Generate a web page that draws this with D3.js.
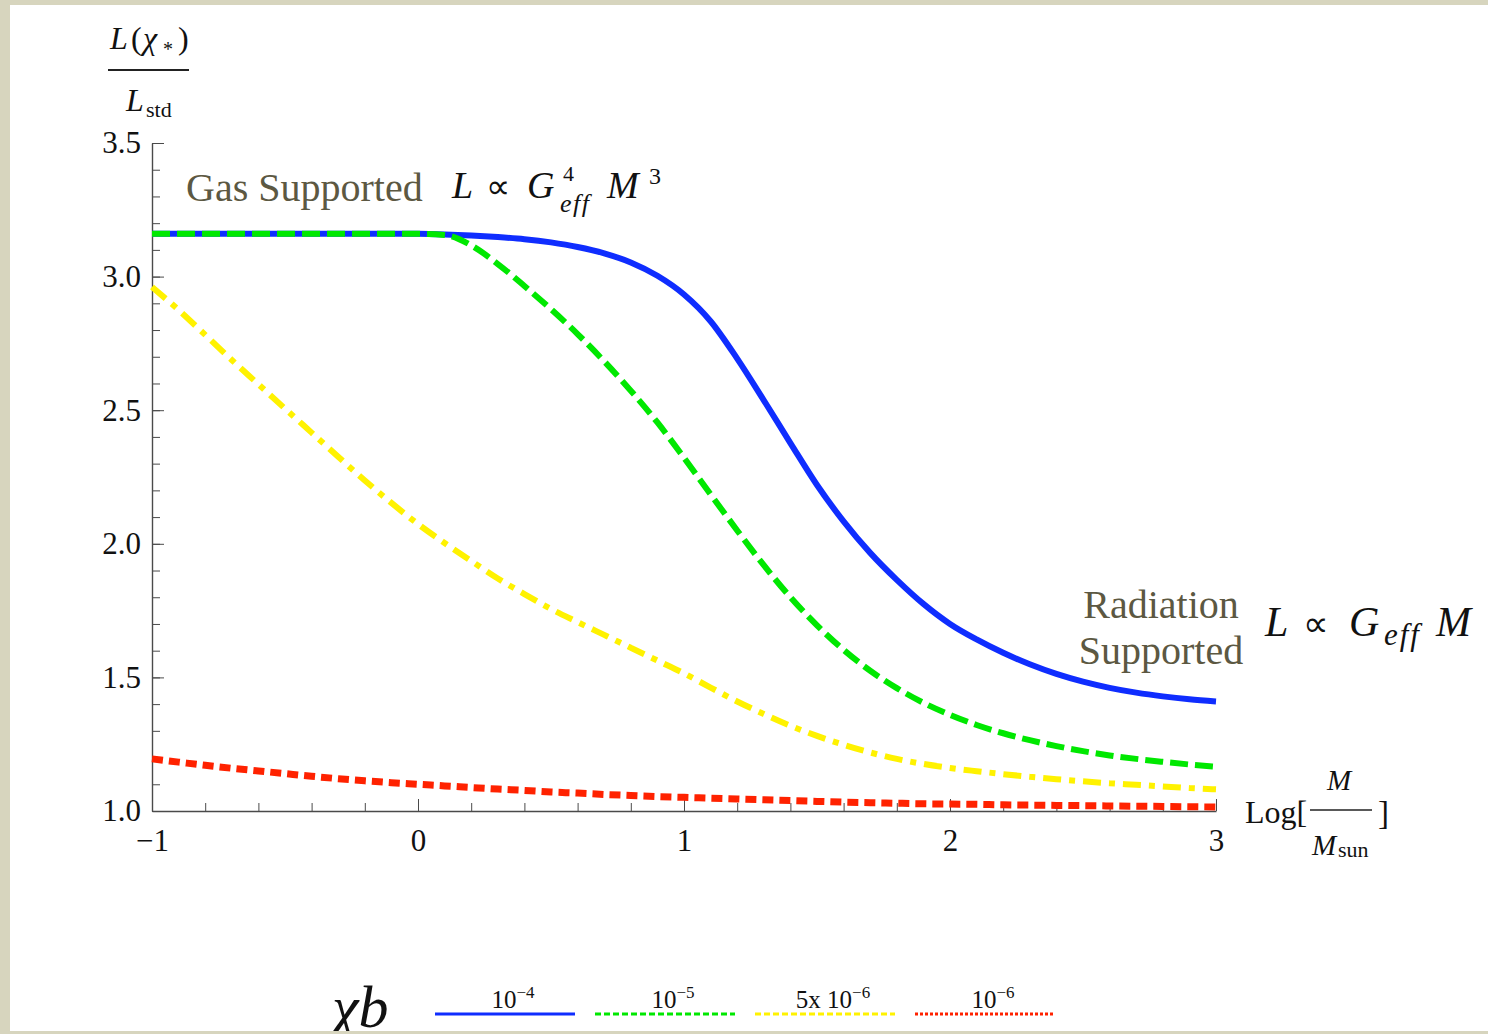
<!DOCTYPE html>
<html>
<head>
<meta charset="utf-8">
<script src="https://cdn.jsdelivr.net/npm/d3@7"></script>
<style>
    html, body { margin: 0; padding: 0; background: #fff; }
    svg { display: block; }
    text { font-family: "Liberation Serif", "Times New Roman", serif; font-variant-ligatures: none; }
</style>
</head>
<body>
<svg width="1488" height="1034"></svg>
<script>
// log10(M / Msun)
const logMass = [-1.0, -0.9, -0.8, -0.7, -0.6, -0.5, -0.4, -0.3, -0.2, -0.1,
    0.0, 0.1, 0.2, 0.3, 0.4, 0.5, 0.6, 0.7, 0.8, 0.9,
    1.0, 1.1, 1.2, 1.3, 1.4, 1.5, 1.6, 1.7, 1.8, 1.9,
    2.0, 2.1, 2.2, 2.3, 2.4, 2.5, 2.6, 2.7, 2.8, 2.9, 3.0];

// L(chi*) / Lstd for each chi_b
const chi1e4 = [3.16, 3.16, 3.16, 3.16, 3.16, 3.16, 3.16, 3.16, 3.16, 3.16,
    3.16, 3.158, 3.154, 3.148, 3.14, 3.128, 3.111, 3.087, 3.053, 3.003,
    2.933, 2.833, 2.693, 2.537, 2.377, 2.22, 2.084, 1.966, 1.865, 1.775,
    1.700, 1.642, 1.592, 1.549, 1.513, 1.484, 1.461, 1.443, 1.429, 1.418, 1.410];
const chi1e5 = [3.16, 3.16, 3.16, 3.16, 3.16, 3.16, 3.16, 3.16, 3.16, 3.16,
    3.16, 3.156, 3.117, 3.047, 2.965, 2.878, 2.785, 2.683, 2.573, 2.454,
    2.322, 2.185, 2.05, 1.92, 1.80, 1.695, 1.603, 1.525, 1.46, 1.405,
    1.36, 1.322, 1.291, 1.265, 1.243, 1.224, 1.208, 1.195, 1.184, 1.174, 1.166];
const chi5e6 = [2.961, 2.875, 2.782, 2.688, 2.597, 2.506, 2.416, 2.326, 2.237, 2.153,
    2.074, 2.003, 1.936, 1.87, 1.812, 1.756, 1.707, 1.659, 1.611, 1.563,
    1.515, 1.462, 1.41, 1.363, 1.319, 1.281, 1.248, 1.219, 1.195, 1.176,
    1.161, 1.149, 1.138, 1.128, 1.119, 1.111, 1.104, 1.098, 1.092, 1.086, 1.081];
const chi1e6 = [1.195, 1.183, 1.171, 1.16, 1.15, 1.14, 1.13, 1.121, 1.113, 1.106,
    1.1, 1.094, 1.088, 1.082, 1.077, 1.071, 1.067, 1.062, 1.058, 1.054,
    1.051, 1.048, 1.045, 1.042, 1.039, 1.036, 1.033, 1.031, 1.029, 1.027,
    1.026, 1.025, 1.023, 1.022, 1.021, 1.02, 1.019, 1.018, 1.017, 1.016, 1.015];

const xMajorTicks = [-1, 0, 1, 2, 3];
const yMajorTicks = [1.0, 1.5, 2.0, 2.5, 3.0, 3.5];

const series = [
    { values: chi1e4, base: "10", exp: "\u22124", stroke: "#0f2dff", width: 6, dash: null, legendDash: null },
    { values: chi1e5, base: "10", exp: "\u22125", stroke: "#00e800", width: 6, dash: "18 7", legendDash: "6 3" },
    { values: chi5e6, base: "5x 10", exp: "\u22126", stroke: "#fff200", width: 6, dash: "18 8 6 8", legendDash: "6 3" },
    { values: chi1e6, base: "10", exp: "\u22126", stroke: "#ff2200", width: 7, dash: "11 6", legendDash: "3 2" }
];

const svg = d3.select("svg");
const x = d3.scaleLinear([-1, 3], [152, 1216]);
const y = d3.scaleLinear([1, 3.5], [811, 143]);
const axisColor = "#4a4a4a";

// minor ticks
svg.append("g")
    .attr("transform", `translate(0,${y(1)})`)
    .call(d3.axisBottom(x).tickValues(d3.range(-1, 3.01, 0.2)).tickSize(-8).tickFormat(""))
    .call(g => g.select(".domain").remove())
    .call(g => g.selectAll("line").attr("stroke", axisColor));
svg.append("g")
    .attr("transform", `translate(${x(-1)},0)`)
    .call(d3.axisLeft(y).tickValues(d3.range(1, 3.51, 0.1)).tickSize(-8).tickFormat(""))
    .call(g => g.select(".domain").remove())
    .call(g => g.selectAll("line").attr("stroke", axisColor));

// major ticks with labels
svg.append("g")
    .attr("transform", `translate(0,${y(1)})`)
    .call(d3.axisBottom(x).tickValues(xMajorTicks).tickFormat(d3.format("d"))
        .tickSizeInner(-12).tickSizeOuter(0).tickPadding(18))
    .call(g => g.select(".domain").attr("stroke", axisColor).attr("stroke-width", 1.4))
    .call(g => g.selectAll("line").attr("stroke", axisColor))
    .call(g => g.selectAll("text").attr("font-size", 31).attr("fill", "#111").attr("dy", "0.71em"));
svg.append("g")
    .attr("transform", `translate(${x(-1)},0)`)
    .call(d3.axisLeft(y).tickValues(yMajorTicks).tickFormat(d3.format(".1f"))
        .tickSizeInner(-12).tickSizeOuter(0).tickPadding(11))
    .call(g => g.select(".domain").attr("stroke", axisColor).attr("stroke-width", 1.4))
    .call(g => g.selectAll("line").attr("stroke", axisColor))
    .call(g => g.selectAll("text").attr("font-size", 31).attr("fill", "#111"));

// curves
const line = d3.line()
    .x((v, i) => x(logMass[i]))
    .y(v => y(v))
    .curve(d3.curveMonotoneX);
svg.append("g").selectAll("path")
    .data(series)
    .join("path")
    .attr("fill", "none")
    .attr("stroke", d => d.stroke)
    .attr("stroke-width", d => d.width)
    .attr("stroke-dasharray", d => d.dash)
    .attr("d", d => line(d.values));

// annotations
const ann = svg.append("g");
const olive = "#5c5842";
ann.append("text").attr("x", 186).attr("y", 201).attr("font-size", 40).attr("fill", olive).text("Gas Supported");
ann.append("text").attr("x", 1161).attr("y", 618).attr("font-size", 40).attr("fill", olive)
    .attr("text-anchor", "middle").text("Radiation");
ann.append("text").attr("x", 1161).attr("y", 664).attr("font-size", 40).attr("fill", olive)
    .attr("text-anchor", "middle").text("Supported");

const it = (t, px, py, size, italic = true) =>
    ann.append("text").attr("x", px).attr("y", py).attr("font-size", size)
        .attr("font-style", italic ? "italic" : "normal").attr("fill", "#111").text(t);

// L ∝ G^4_eff M^3
it("L", 452, 198, 38);
it("\u221d", 486, 198, 34, false);
it("G", 527, 198, 38);
it("4", 563, 181, 22, false);
it("eff", 560, 212, 26).attr("letter-spacing", 1.5);
it("M", 607, 198, 38);
it("3", 649, 184, 24, false);

// L ∝ G_eff M
it("L", 1265, 636, 42);
it("\u221d", 1303, 636, 36, false);
it("G", 1349, 636, 42);
it("eff", 1384, 645, 31).attr("letter-spacing", 2);
it("M", 1436, 636, 42);

// y axis label
it("L", 110, 49, 32);
it("(", 131, 49, 32, false);
it("\u03c7", 143, 49, 32);
it("*", 163, 56, 20, false);
it(")", 178, 49, 32, false);
ann.append("line").attr("x1", 108).attr("x2", 189).attr("y1", 70).attr("y2", 70)
    .attr("stroke", "#222").attr("stroke-width", 2);
it("L", 126, 111, 32);
it("std", 146, 117, 22, false);

// x axis label
it("Log[", 1245, 823, 32, false);
it("M", 1327, 790, 29);
ann.append("line").attr("x1", 1310).attr("x2", 1372).attr("y1", 810).attr("y2", 810)
    .attr("stroke", "#222").attr("stroke-width", 1.5);
it("M", 1312, 855, 29);
it("sun", 1338, 857, 22, false);
it("]", 1378, 824, 33, false);

// legend
const legend = svg.append("g");
legend.append("text").attr("x", 332).attr("y", 1027).attr("font-size", 60)
    .attr("font-style", "italic").attr("fill", "#111").text("\u03c7b");
const item = legend.selectAll(".item")
    .data(series)
    .join("g")
    .attr("class", "item")
    .attr("transform", (d, i) => `translate(${435 + i * 160},1014)`);
item.append("line")
    .attr("x1", 0).attr("x2", 140)
    .attr("stroke", d => d.stroke)
    .attr("stroke-width", 3)
    .attr("stroke-dasharray", d => d.legendDash);
const lt = item.append("text")
    .attr("x", 78).attr("y", -6)
    .attr("text-anchor", "middle")
    .attr("font-size", 25)
    .attr("fill", "#111");
lt.append("tspan").text(d => d.base);
lt.append("tspan").attr("dy", -10).attr("font-size", 17).text(d => d.exp);

// slide border
const border = "#d7d5be";
svg.append("rect").attr("x", 0).attr("y", 0).attr("width", 1488).attr("height", 5).attr("fill", border);
svg.append("rect").attr("x", 0).attr("y", 0).attr("width", 10).attr("height", 1034).attr("fill", border);
svg.append("rect").attr("x", 0).attr("y", 1031).attr("width", 1488).attr("height", 3).attr("fill", border);
</script>
</body>
</html>
